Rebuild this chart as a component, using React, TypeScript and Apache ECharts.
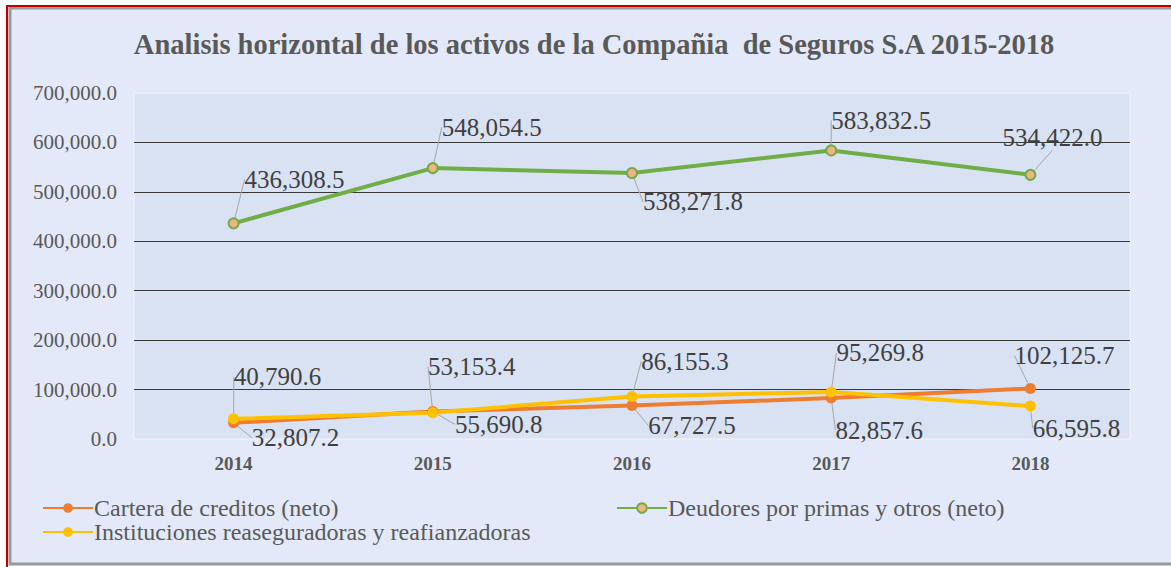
import React, { useEffect, useRef } from "react";
import * as echarts from "echarts";

const years = ["2014", "2015", "2016", "2017", "2018"];
const cartera = [32807.2, 55690.8, 67727.5, 82857.6, 102125.7];
const deudores = [436308.5, 548054.5, 538271.8, 583832.5, 534422.0];
const instituciones = [40790.6, 53153.4, 86155.3, 95269.8, 66595.8];
const seriesNames = [
  "Cartera de creditos (neto)",
  "Deudores por primas y otros (neto)",
  "Instituciones reaseguradoras y reafianzadoras",
];
const yTicks = { min: 0, max: 700000, interval: 100000 };

// label offsets (label centre minus point), layout only
const offsets: number[][][] = [
  [[62, 15], [66, 13], [60, 20], [48, 32], [34, -33]],
  [[61, -44], [59, -41], [61, 29], [50, -30], [22, -37]],
  [[44, -42], [39, -46], [53, -35], [49, -39], [46, 22]],
];

const fmt = (v: number) =>
  v.toLocaleString("en-US", { minimumFractionDigits: 1, maximumFractionDigits: 1 });

const SERIF = "Liberation Serif";

export default function App() {
  const ref = useRef<HTMLDivElement>(null);
  useEffect(() => {
    if (!ref.current) return;
    const chart = echarts.init(ref.current, null, { renderer: "svg" });
    const labelCommon = {
      show: true,
      position: "inside" as const,
      fontFamily: SERIF,
      fontSize: 25,
      color: "#404040",
      formatter: (p: any) => fmt(p.value),
    };
    const mk = (idx: number, data: number[], color: string, extra: any) => ({
      name: seriesNames[idx],
      type: "line",
      data,
      symbol: "circle",
      symbolSize: 11,
      lineStyle: { width: 4, color },
      itemStyle: { color },
      label: labelCommon,
      labelLine: { show: true, length2: 0, lineStyle: { color: "#a6a6a6", width: 1 } },
      labelLayout: (p: any) => {
        const o = offsets[idx][p.dataIndex];
        return { dx: o[0], dy: o[1] };
      },
      z: idx === 1 ? 3 : 2,
      ...extra,
    });
    const legendText = { fontFamily: SERIF, fontSize: 24, lineHeight: 24, color: "#595959", padding: [0, 0, 0, -4] };
    chart.setOption({
      animation: false,
      backgroundColor: "#ffffff",
      graphic: [
        {
          type: "rect",
          shape: { x: 10, y: 8, width: 1170, height: 556 },
          style: { fill: "#e3e9f8", stroke: "#9a9a9a", lineWidth: 3 },
          z: -10,
        },
        {
          type: "line",
          shape: { x1: 7, y1: 6, x2: 1171, y2: 6 },
          style: { stroke: "#c00000", lineWidth: 2 },
          z: -5,
        },
        {
          type: "line",
          shape: { x1: 7, y1: 5, x2: 7, y2: 567 },
          style: { stroke: "#c00000", lineWidth: 2 },
          z: -5,
        },
      ],
      title: {
        text: "Analisis horizontal de los activos de la Compañia  de Seguros S.A 2015-2018",
        left: 589,
        textAlign: "center",
        top: 25,
        textStyle: { fontFamily: SERIF, fontSize: 28.5, fontWeight: "bold", color: "#595959" },
      },
      grid: {
        left: 134,
        top: 93,
        width: 996,
        height: 346,
        show: true,
        backgroundColor: "#d9e2f2",
        borderColor: "#f2f5fb",
        borderWidth: 1,
      },
      legend: [
        {
          data: [seriesNames[0], seriesNames[2]],
          orient: "vertical",
          left: 42,
          top: 496,
          itemGap: 0,
          itemWidth: 50,
          itemHeight: 12,
          padding: 0,
          textStyle: legendText,
        },
        {
          data: [seriesNames[1]],
          orient: "vertical",
          left: 616,
          top: 496,
          itemWidth: 50,
          itemHeight: 12,
          padding: 0,
          textStyle: legendText,
        },
      ],
      xAxis: {
        type: "category",
        data: years,
        boundaryGap: true,
        axisLine: { show: false },
        axisTick: { show: false },
        axisLabel: {
          margin: 15,
          fontFamily: SERIF,
          fontSize: 19,
          fontWeight: "bold",
          color: "#595959",
        },
      },
      yAxis: {
        type: "value",
        min: yTicks.min,
        max: yTicks.max,
        interval: yTicks.interval,
        axisLine: { show: false },
        axisTick: { show: false },
        axisLabel: {
          margin: 17,
          fontFamily: SERIF,
          fontSize: 21,
          color: "#595959",
          formatter: (v: number) => fmt(v),
        },
        splitLine: {
          lineStyle: {
            color: ["rgba(0,0,0,0)", "#3a3a3a", "#3a3a3a", "#3a3a3a", "#3a3a3a", "#3a3a3a", "#3a3a3a", "rgba(0,0,0,0)"],
            width: 1,
          },
        },
      },
      series: [
        mk(0, cartera, "#ed7d31", {}),
        mk(2, instituciones, "#ffc000", {}),
        mk(1, deudores, "#70ad47", {
          symbolSize: 10,
          itemStyle: { color: "#f4b183", borderColor: "#70ad47", borderWidth: 2 },
        }),
      ],
    });
    return () => chart.dispose();
  }, []);
  return (
    <div
      ref={ref}
      style={{ position: "absolute", left: 0, top: 0, width: 1171, height: 567 }}
    />
  );
}
